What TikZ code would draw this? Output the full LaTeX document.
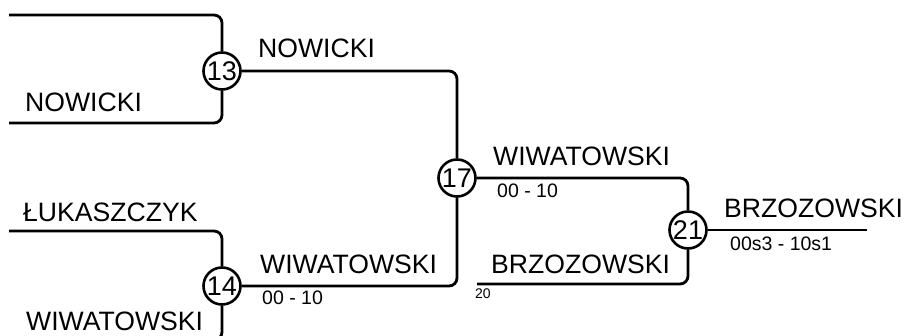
\documentclass[tikz,border=0pt]{standalone}
\usepackage{fontspec}
\setmainfont{Liberation Sans}
\usetikzlibrary{backgrounds}
\begin{document}
\begin{tikzpicture}[x=1pt,y=-1pt,
  big/.style={anchor=base west,inner sep=0pt,font=\fontsize{26.6}{30}\selectfont},
  small/.style={anchor=base west,inner sep=0pt,font=\fontsize{19.5}{22}\selectfont},
  tiny/.style={anchor=base west,inner sep=0pt,font=\fontsize{14}{16}\selectfont},
  seed/.style={circle,draw,fill=white,line width=2.6pt,minimum size=37pt,inner sep=0pt,font=\fontsize{27}{30}\selectfont},
  wire/.style={line width=2.8pt,rounded corners=8pt}]
\useasboundingbox (0,0) rectangle (906,336);
% match circles
\node[seed] (c13) at (222,71) {13};
\node[seed] (c14) at (222,286) {14};
\node[seed] (c17) at (457,178) {17};
\node[seed] (c21) at (688,230) {21};
% coordinates of free ends
\coordinate (a1) at (9,15);
\coordinate (a2) at (9,123);
\coordinate (a3) at (9,231);
\coordinate (a4) at (9,340);
\coordinate (b20) at (477,284);
\coordinate (fin) at (867,230);
% connectors
\begin{scope}[on background layer]
\draw[wire] (a1) -| (c13);
\draw[wire] (a2) -| (c13);
\draw[wire] (a3) -| (c14);
\draw[wire] (a4) -| (c14);
\draw[wire] (c13) -| (c17);
\draw[wire] (c14) -| (c17);
\draw[wire] (c17) -| (c21);
\draw[wire] (b20) -| (c21);
\draw[wire] (c21) -- (fin);
\end{scope}
% labels
\node[big] (t1) at (258,58) {NOWICKI};
\node[big] (t2) at (25,112) {NOWICKI};
\node[big] (t3) at (23,222) {ŁUKASZCZYK};
\node[big] (t4) at (26,331) {WIWATOWSKI};
\node[big] (t5) at (260,274) {WIWATOWSKI};
\node[small] (s5) at (262,305) {00 - 10};
\node[big] (t6) at (493,166) {WIWATOWSKI};
\node[small] (s6) at (497,198) {00 - 10};
\node[big] (t7) at (491,274) {BRZOZOWSKI};
\node[tiny] (s7) at (475,299) {20};
\node[big] (t8) at (724,218) {BRZOZOWSKI};
\node[small] (s8) at (730,251) {00s3 - 10s1};
\end{tikzpicture}
\end{document}
